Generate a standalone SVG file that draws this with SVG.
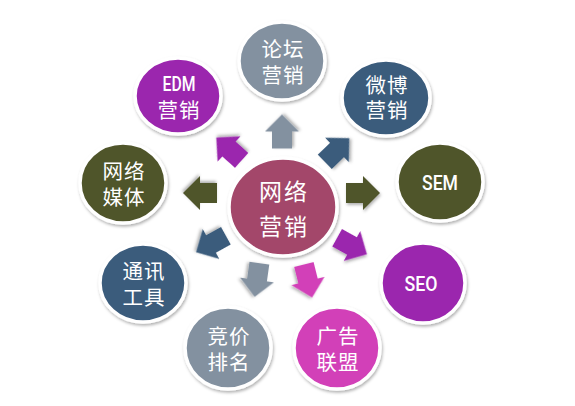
<svg xmlns="http://www.w3.org/2000/svg" width="575" height="406" viewBox="0 0 575 406">
<defs>
<filter id="sh" x="-20%" y="-20%" width="140%" height="140%">
<feDropShadow dx="1" dy="2" stdDeviation="1.5" flood-color="#000" flood-opacity="0.3"/>
</filter>
<path id="arr" d="M-17,-10 H0 V-17 L17,0 L0,17 V10 H-17 Z"/>
</defs>
<style>
.c{stroke:#fff;stroke-width:3.5;filter:url(#sh)}
.t{fill:#fff;font-family:"Noto Sans CJK SC","Noto Sans",sans-serif;font-size:20.5px;text-anchor:middle;dominant-baseline:central;letter-spacing:1px}
.l{fill:#fff;font-family:"Roboto","Liberation Sans",sans-serif;font-size:21px;font-weight:500;text-anchor:middle;dominant-baseline:central}
.a{filter:url(#sh)}
.gray{fill:#8391a0}
.purple{fill:#9b26ae}
.blue{fill:#3b5b7c}
.olive{fill:#50552b}
.mag{fill:#d23fb8}
.center{fill:#a3466b}
</style>
<rect width="575" height="406" fill="#fff"/>
<g id="connectors">
<use href="#arr" class="a gray" transform="translate(282,131.5) rotate(-90)"/>
<use href="#arr" class="a purple" transform="translate(229,149) rotate(-138)"/>
<use href="#arr" class="a blue" transform="translate(337,150) rotate(-44)"/>
<use href="#arr" class="a olive" transform="translate(200,193) rotate(180)"/>
<use href="#arr" class="a olive" transform="translate(363,193)"/>
<use href="#arr" class="a blue" transform="translate(211,244) rotate(151)"/>
<use href="#arr" class="a purple" transform="translate(352,246) rotate(29)"/>
<use href="#arr" class="a gray" transform="translate(257,280) rotate(98)"/>
<use href="#arr" class="a mag" transform="translate(308,281) rotate(76)"/>
</g>
<g id="center-node">
<ellipse class="c center" cx="283" cy="207" rx="54" ry="49"/>
<text class="t" x="284" y="190" style="font-size:23px;letter-spacing:2px">网络</text>
<text class="t" x="284" y="225" style="font-size:23px;letter-spacing:2px">营销</text>
</g>
<g id="node-luntan">
<ellipse class="c gray" cx="282" cy="61" rx="43" ry="39"/>
<text class="t" x="283" y="48">论坛</text>
<text class="t" x="283" y="74">营销</text>
</g>
<g id="node-edm">
<ellipse class="c purple" cx="178" cy="96" rx="43" ry="38"/>
<text class="l" x="179" y="84" textLength="33" lengthAdjust="spacingAndGlyphs">EDM</text>
<text class="t" x="179" y="109">营销</text>
</g>
<g id="node-weibo">
<ellipse class="c blue" cx="386" cy="98" rx="44" ry="38"/>
<text class="t" x="387" y="84">微博</text>
<text class="t" x="387" y="109">营销</text>
</g>
<g id="node-meiti">
<ellipse class="c olive" cx="123" cy="183" rx="43" ry="40"/>
<text class="t" x="124" y="170">网络</text>
<text class="t" x="124" y="196">媒体</text>
</g>
<g id="node-sem">
<ellipse class="c olive" cx="440" cy="182" rx="43" ry="39"/>
<text class="l" x="440" y="183" textLength="36" lengthAdjust="spacingAndGlyphs">SEM</text>
</g>
<g id="node-tongxun">
<ellipse class="c blue" cx="143" cy="283" rx="43" ry="39"/>
<text class="t" x="144" y="270">通讯</text>
<text class="t" x="144" y="296">工具</text>
</g>
<g id="node-seo">
<ellipse class="c purple" cx="423" cy="283" rx="42" ry="40"/>
<text class="l" x="421" y="284" textLength="33" lengthAdjust="spacingAndGlyphs">SEO</text>
</g>
<g id="node-jingjia">
<ellipse class="c gray" cx="228" cy="348" rx="43" ry="41"/>
<text class="t" x="229" y="335">竞价</text>
<text class="t" x="229" y="361">排名</text>
</g>
<g id="node-guanggao">
<ellipse class="c mag" cx="337" cy="348" rx="43" ry="41"/>
<text class="t" x="338" y="335">广告</text>
<text class="t" x="338" y="361">联盟</text>
</g>
</svg>
